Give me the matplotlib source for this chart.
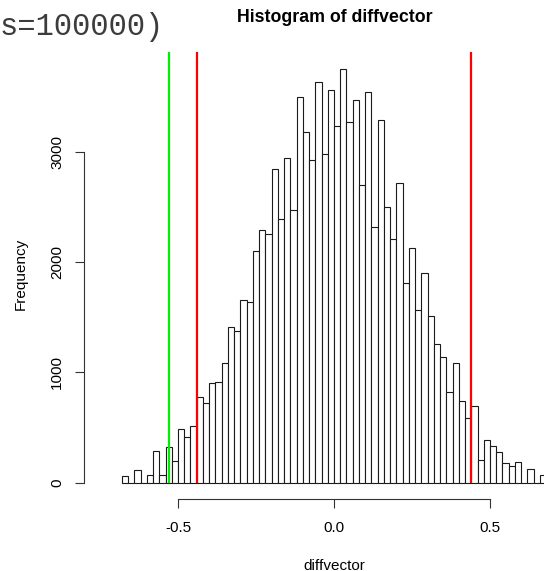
import matplotlib
matplotlib.use("Agg")
import matplotlib.pyplot as plt
import numpy as np

plt.rcParams['font.family'] = ['Liberation Sans', 'DejaVu Sans']
plt.rcParams['axes.unicode_minus'] = False

# ---- data ----
bin_start = -0.68
bin_width = 0.02
counts = [61, 0, 113, 0, 67, 285, 67, 321, 194, 490,
          418, 512, 778, 721, 903, 912, 1087, 1408, 1378, 1657,
          1635, 2104, 2292, 2252, 2840, 2389, 2946, 2474, 3497, 3176,
          2922, 3637, 2983, 3558, 3231, 3755, 3267, 3473, 2695, 3546,
          2322, 3292, 2504, 2213, 2716, 1811, 2125, 1566, 1902, 1514,
          1262, 1142, 824, 1087, 742, 590, 697, 209, 385, 330,
          279, 176, 149, 185, 0, 124, 0, 67]
green_lines = [-0.5285]
red_lines = [-0.4396, 0.4397]
x_ticks = [-0.5, 0.0, 0.5]
x_tick_labels = ["-0.5", "0.0", "0.5"]
y_ticks = [0, 1000, 2000, 3000]
y_tick_labels = ["0", "1000", "2000", "3000"]
title = "Histogram of diffvector"
xlabel = "diffvector"
ylabel = "Frequency"
overlay_text = "s=100000)"

W, H = 544, 571
fig = plt.figure(figsize=(W / 100, H / 100), dpi=100)

ax_left, ax_right = 84.3, 544
ax_top, ax_bottom = 52, 499.3
ax = fig.add_axes([ax_left / W, 1 - ax_bottom / H,
                   (ax_right - ax_left) / W, (ax_bottom - ax_top) / H])

lefts = bin_start + bin_width * np.arange(len(counts))
ax.bar(lefts, counts, width=bin_width, align='edge', facecolor='white',
       edgecolor='#1a1a1a', linewidth=0.8)

M = max(counts)
ylo, yhi = -0.04 * M, 1.04 * M
ax.set_ylim(ylo, yhi)
px_per_unit = 312.0
x0_px = 334.0
ax.set_xlim((ax_left - x0_px) / px_per_unit, (ax_right - x0_px) / px_per_unit)

ax.vlines(green_lines, 0, yhi, colors='#00ee00', linewidth=1.6, zorder=3)
ax.vlines(red_lines, 0, yhi, colors='#ff0000', linewidth=1.6, zorder=3)

for s in ['top', 'right']:
    ax.spines[s].set_visible(False)
ax.spines['left'].set_bounds(0, 3000)
ax.spines['bottom'].set_bounds(-0.5, 0.5)
for s in ['left', 'bottom']:
    ax.spines[s].set_color('#333333')
    ax.spines[s].set_linewidth(0.8)

ax.set_xticks(x_ticks)
ax.set_xticklabels(x_tick_labels, fontsize=11)
ax.set_yticks(y_ticks)
ax.set_yticklabels(y_tick_labels, fontsize=11, rotation=90, va='center')
ax.tick_params(axis='both', direction='out', length=6.5, width=0.8,
               color='#333333')
ax.tick_params(axis='x', pad=9)
ax.tick_params(axis='y', pad=8)

fig.text(334.7 / W, 1 - 17 / H, title, ha='center', va='center',
         fontsize=12.8, fontweight='bold')
fig.text(334 / W, 1 - 565.5 / H, xlabel, ha='center', va='center', fontsize=11)
fig.text(21 / W, 1 - 274 / H, ylabel, ha='center', va='center', fontsize=11,
         rotation=90)
fig.text(0, 1 - 27 / H, overlay_text, ha='left', va='center', fontsize=22,
         family=['Liberation Mono', 'DejaVu Sans Mono'], color='#3c3c3c')

fig.savefig("out.png", dpi=100)
